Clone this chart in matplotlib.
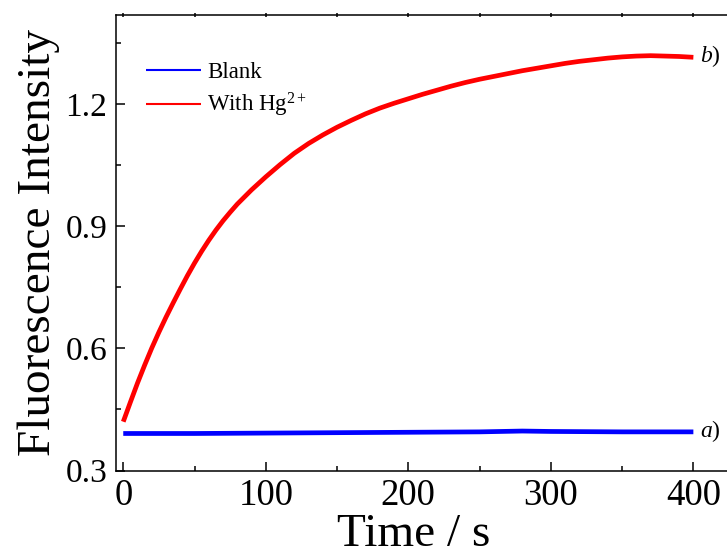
import matplotlib
matplotlib.use("Agg")
import matplotlib.pyplot as plt
from matplotlib.ticker import MultipleLocator

# Data
time_red = [0, 5, 10, 15, 20, 25, 30, 35, 40, 45, 50, 55, 60, 65, 70, 75, 80,
            90, 100, 110, 120, 130, 140, 150, 160, 170, 180, 190, 200, 210,
            220, 230, 240, 250, 260, 270, 280, 290, 300, 310, 320, 330, 340,
            350, 360, 370, 380, 390, 400]
with_hg = [0.420, 0.468, 0.515, 0.559, 0.601, 0.640, 0.677, 0.712, 0.746,
           0.779, 0.810, 0.839, 0.866, 0.891, 0.914, 0.935, 0.955, 0.990,
           1.022, 1.052, 1.080, 1.104, 1.125, 1.144, 1.161, 1.177, 1.191,
           1.203, 1.214, 1.225, 1.235, 1.245, 1.254, 1.262, 1.269, 1.276,
           1.283, 1.289, 1.295, 1.301, 1.306, 1.310, 1.314, 1.317, 1.319,
           1.320, 1.319, 1.318, 1.316]
time_blue = [0, 50, 100, 150, 200, 250, 280, 300, 350, 400]
blank = [0.391, 0.391, 0.392, 0.393, 0.394, 0.395, 0.397, 0.396, 0.395, 0.395]

x_ticks = [0, 100, 200, 300, 400]
y_ticks = [0.3, 0.6, 0.9, 1.2]
y_tick_labels = ['0.3', '0.6', '0.9', '1.2']

plt.rcParams['font.family'] = ['Liberation Serif', 'DejaVu Serif']
plt.rcParams['mathtext.fontset'] = 'custom'
plt.rcParams['mathtext.rm'] = 'Liberation Serif'
plt.rcParams['mathtext.it'] = 'Liberation Serif:italic'

fig = plt.figure(figsize=(7.27, 5.56), dpi=100)
W, H = 727, 556
left_px, right_px, top_px, bottom_px = 115.7, 727, 15, 470.5
ax = fig.add_axes([left_px / W, 1 - bottom_px / H,
                   (right_px - left_px) / W, (bottom_px - top_px) / H])

ax.plot(time_blue, blank, color='#0000ff', lw=3.4, solid_capstyle='butt', label='Blank')
ax.plot(time_red, with_hg, color='#ff0000', lw=3.4, solid_capstyle='butt',
        label='With Hg$^{\\mathregular{2+}}$')

ax.set_xlim(-5.3, 423.6)
ax.set_ylim(0.3, 1.42)
ax.set_xticks(x_ticks)
ax.set_yticks(y_ticks)
ax.set_yticklabels(y_tick_labels)
ax.xaxis.set_minor_locator(MultipleLocator(50))
ax.yaxis.set_minor_locator(MultipleLocator(0.15))
ax.tick_params(which='major', direction='in', length=6.5, width=1.1,
               top=False, right=False)
ax.tick_params(which='minor', direction='in', length=3.6, width=1.1,
               top=False, right=False)
ax.tick_params(axis='y', which='major', labelsize=24, pad=6)
ax.tick_params(axis='x', which='major', labelsize=26.5, pad=6)

# small ticks on top spine
sec = ax.secondary_xaxis('top')
sec.set_xticks([0, 50, 100, 150, 200, 250, 300, 350, 400])
sec.tick_params(direction='inout', length=3, width=1.1, labeltop=False)
sec.spines['top'].set_visible(False)

for s in ['left', 'bottom', 'top']:
    ax.spines[s].set_linewidth(1.1)
ax.spines['right'].set_visible(False)

ax.set_xlabel('Time / s', fontsize=34)
ax.xaxis.set_label_coords((414 - left_px) / (right_px - left_px), -0.095)
ax.set_ylabel('Fluorescence Intensity', fontsize=34, labelpad=4)

leg = ax.legend(loc='upper left', bbox_to_anchor=(0.035, 0.918), frameon=False,
                fontsize=16.5, handlelength=2.4, handletextpad=0.25,
                labelspacing=0.38, borderaxespad=0)
for line in leg.get_lines():
    line.set_linewidth(1.5)

ax.text(405, 0.396, '$\\it{a}$)', fontsize=17, va='center', ha='left')
ax.text(405, 1.318, '$\\it{b}$)', fontsize=17, va='center', ha='left')

fig.savefig('out.png', dpi=100)
